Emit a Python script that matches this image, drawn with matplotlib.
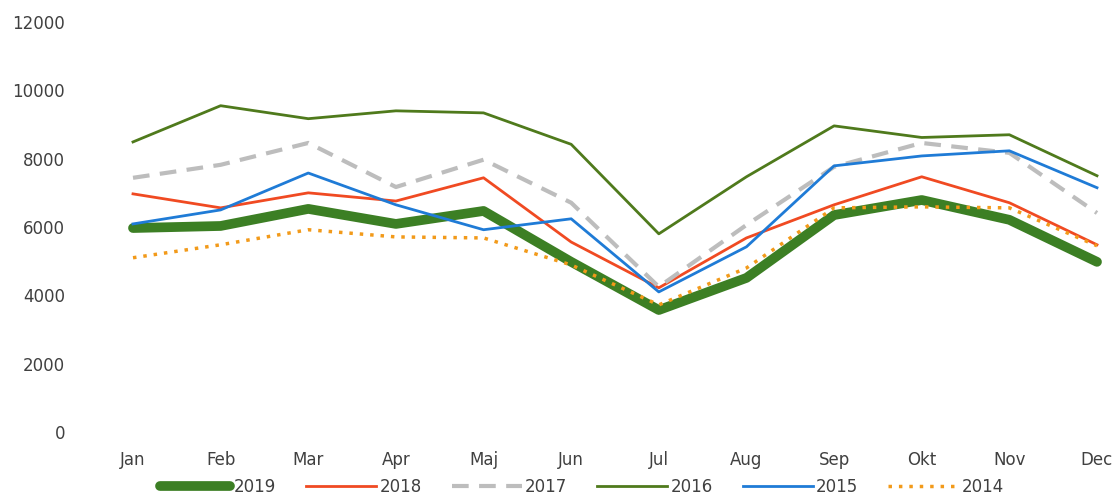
import matplotlib.pyplot as plt

months = ['Jan', 'Feb', 'Mar', 'Apr', 'Maj', 'Jun', 'Jul', 'Aug', 'Sep', 'Okt', 'Nov', 'Dec']

y2019 = [5970, 6030, 6530, 6090, 6470, 4980, 3570, 4510, 6350, 6790, 6210, 4980]
y2018 = [6970, 6560, 7000, 6760, 7440, 5560, 4220, 5680, 6650, 7470, 6710, 5480]
y2017 = [7440, 7820, 8460, 7170, 7970, 6710, 4250, 6060, 7760, 8460, 8170, 6410]
y2016 = [8490, 9550, 9170, 9400, 9340, 8420, 5800, 7470, 8960, 8620, 8700, 7500]
y2015 = [6090, 6500, 7580, 6650, 5920, 6240, 4100, 5420, 7790, 8080, 8230, 7150]
y2014 = [5100, 5480, 5920, 5710, 5680, 4890, 3720, 4800, 6560, 6590, 6560, 5450]

text_col = '#404040'

fig = plt.figure(figsize=(11.19, 4.95), dpi=100)
ax = fig.add_axes([133 / 1119, 63 / 495, 964 / 1119, 410 / 495])

x = range(len(months))
ax.plot(x, y2019, color='#3C7F24', lw=7, solid_capstyle='round', label='2019', clip_on=False)
ax.plot(x, y2018, color='#F04A22', lw=2, label='2018', clip_on=False)
ax.plot(x, y2017, color='#BDBDBD', lw=3, ls=(0, (4, 2.5)), label='2017', clip_on=False)
ax.plot(x, y2016, color='#4F7A1C', lw=2, label='2016', clip_on=False)
ax.plot(x, y2015, color='#1F7BD6', lw=2, label='2015', clip_on=False)
ax.plot(x, y2014, color='#F29A1A', lw=2.5, ls=(0, (1, 2)), label='2014', clip_on=False)

ax.set_xlim(0, 11)
ax.set_ylim(0, 12000)
ax.set_yticks(range(0, 12001, 2000))
ax.set_xticks(list(x))
ax.set_xticklabels(months)
for s in ax.spines.values():
    s.set_visible(False)
ax.tick_params(axis='y', length=0, pad=49, labelsize=12, labelcolor=text_col)
ax.tick_params(axis='x', length=0, pad=14, labelsize=12, labelcolor=text_col)

leg = ax.legend(loc='center', bbox_to_anchor=(0.466, -0.134), ncol=6, frameon=False,
                fontsize=12, handlelength=4.2, columnspacing=1.8, handletextpad=0.2,
                borderpad=0)
for t in leg.get_texts():
    t.set_color(text_col)

fig.savefig('out.png', dpi=100)
